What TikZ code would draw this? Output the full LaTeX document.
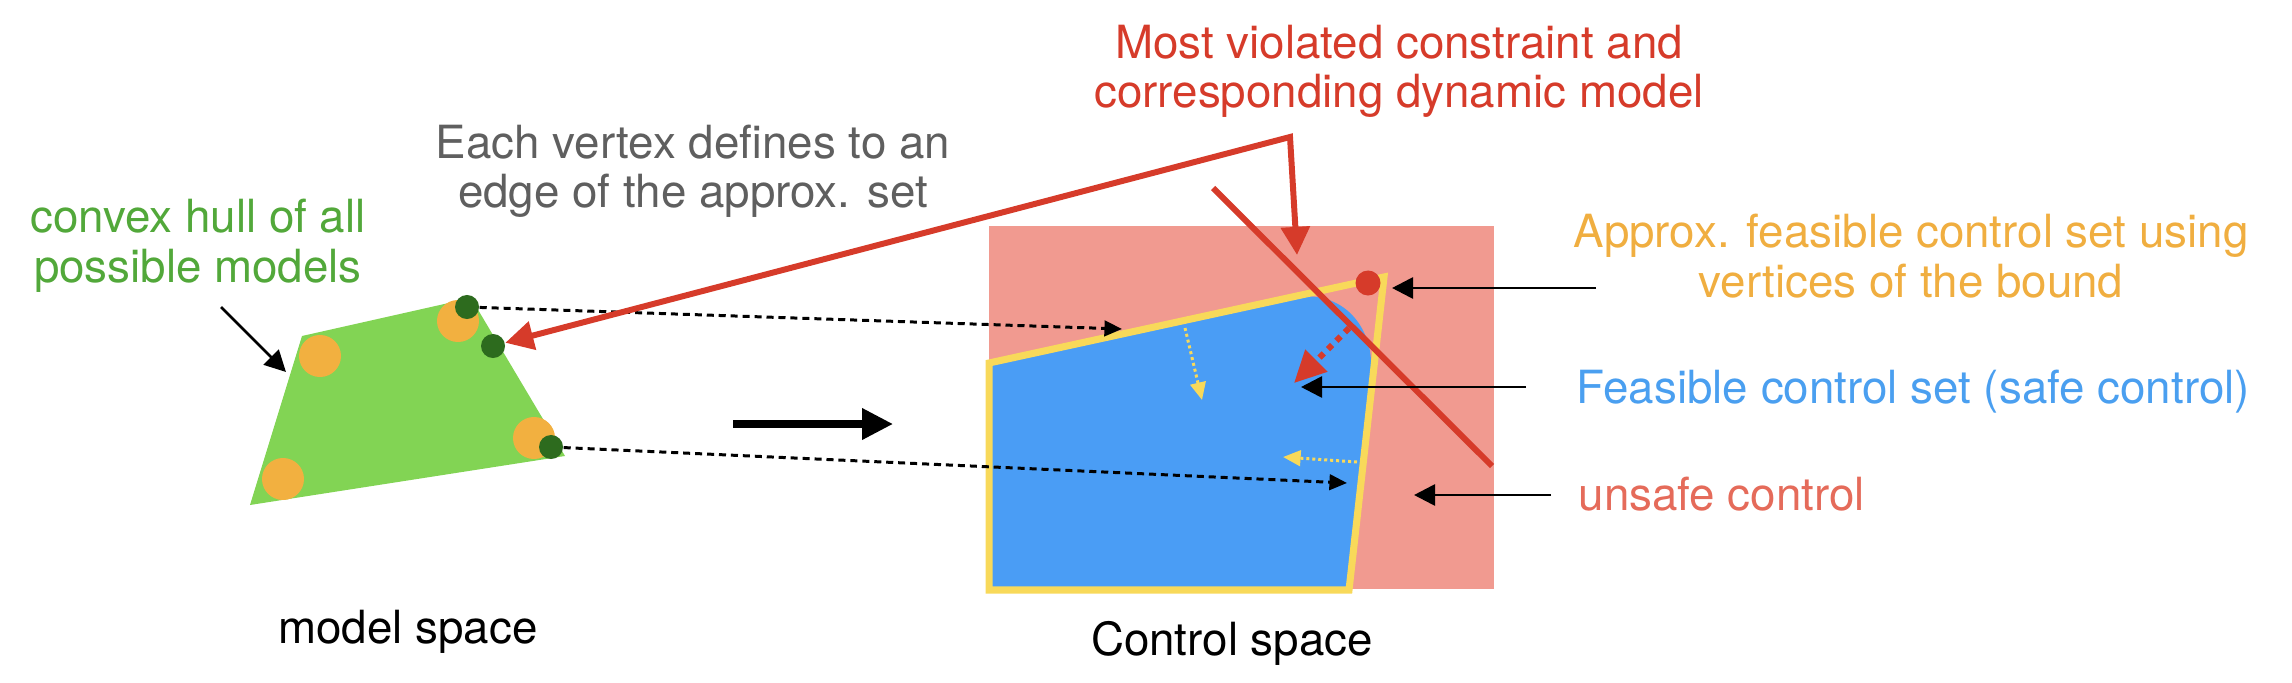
\documentclass[tikz,border=0pt]{standalone}
\usepackage{xcolor}
\usepackage{fontspec}
\setmainfont{TeX Gyre Heros}
\usepackage{tikz}
\usetikzlibrary{positioning, arrows.meta}
\definecolor{hullgreen}{HTML}{82D454}
\definecolor{notegreen}{HTML}{52A83A}
\definecolor{modelorange}{HTML}{F2B040}
\definecolor{vertexgreen}{HTML}{2D6B1E}
\definecolor{unsafepink}{HTML}{F19A90}
\definecolor{safeblue}{HTML}{4A9DF5}
\definecolor{boundyellow}{HTML}{F8D95A}
\definecolor{violred}{HTML}{D63B2A}
\definecolor{notegray}{HTML}{5F5F5F}
\definecolor{noteorange}{HTML}{F0AE40}
\definecolor{noteblue}{HTML}{4A9FF0}
\definecolor{notered}{HTML}{E56B5A}

\tikzset{
  note/.style={font=\fontsize{13}{14.2}\selectfont, inner sep=0pt, align=center},
  pointer/.style={-{Triangle[length=6pt,width=6pt]}, line width=0.8pt},
  vtxmap/.style={-{Triangle[length=5pt,width=4.4pt]}, line width=0.85pt,
                 dash pattern=on 2pt off 1.4pt},
  shrink/.style={-{Triangle[length=5pt,width=4.4pt]}, boundyellow,
                 line width=0.85pt, dash pattern=on 0.85pt off 0.85pt},
  violline/.style={violred, line width=1.7pt},
  modeldot/.style={circle, fill=modelorange, minimum size=0.42cm, inner sep=0pt},
  vertexdot/.style={circle, fill=vertexgreen, minimum size=0.24cm, inner sep=0pt},
}

\begin{document}
\begin{tikzpicture}[x=0.01cm, y=-0.01cm]
  \useasboundingbox (0,0) rectangle (2292,682);

  % model space
  \fill[hullgreen] (302,336) -- (471,298) -- (565,456) -- (250,505) -- cycle;
  \foreach \mx/\my [count=\i] in {320/356, 458/321, 534/438, 283/479}
    \node[modeldot] (m\i) at (\mx,\my) {};
  \node[vertexdot] (v1) at (467,307) {};
  \node[vertexdot] (v2) at (493,346) {};
  \node[vertexdot] (v3) at (551,447) {};

  % control space
  \fill[unsafepink] (989,226) rectangle (1494,589);
  \fill[safeblue] (989,363) -- (1289,298)
    .. controls (1345,287) and (1373,330) .. (1371,368)
    -- (1349,590) -- (989,590) -- cycle;
  \draw[boundyellow, line width=2pt] (989,363) -- (1384,277) -- (1349,590)
    -- (989,590) -- cycle;

  \coordinate (s1a) at (1185,328);
  \coordinate (s1b) at (1202,400);
  \coordinate (s2a) at (1357,462);
  \coordinate (s2b) at (1283,457);
  \draw[shrink] (s1a) -- (s1b);
  \draw[shrink] (s2a) -- (s2b);

  \coordinate (e1) at (1122,329);
  \coordinate (e3) at (1347,483);
  \draw[vtxmap] (v1) -- (e1);
  \draw[vtxmap] (v3) -- (e3);

  \coordinate (c1) at (1213,188);
  \coordinate (c2) at (1492,466);
  \draw[violline] (c1) -- (c2);
  \node[circle, fill=violred, minimum size=0.25cm, inner sep=0pt] (worst) at (1368,283) {};
  \coordinate (w1) at (1349,328);
  \coordinate (w2) at (1294,383);
  \draw[violline, dash pattern=on 1.7pt off 1.7pt,
        -{Triangle[length=9pt,width=8.5pt]}] (w1) -- (w2);

  \coordinate (elbow) at (1290,137);
  \coordinate (hit) at (1297,255);
  \draw[violline, {Triangle[length=8pt,width=8pt]}-{Triangle[length=8pt,width=8pt]}]
    (v2) -- (elbow) -- (hit);

  \coordinate (go1) at (733,424);
  \coordinate (go2) at (893,424);
  \draw[line width=2pt, -{Triangle[length=8.8pt,width=8.5pt]}] (go1) -- (go2);

  % labels (two-line notes sit on the baseline of their last line)
  \node[note, violred, anchor=base] (title) at (1399,108)
    {Most violated constraint and\\corresponding dynamic model};
  \node[note, notegray, anchor=base] (edgenote) at (693,208)
    {Each vertex defines to an\\edge of the approx. set};
  \node[note, notegreen, anchor=base] (hullnote) at (198,282)
    {convex hull of all\\possible models};
  \node[note, noteorange, anchor=base] (approxnote) at (1911,297)
    {Approx. feasible control set using\\vertices of the bound};
  \node[note, noteblue, anchor=base west] (feasnote) at (1576,403)
    {Feasible control set (safe control)};
  \node[note, notered, anchor=base west] (unsafenote) at (1578,510)
    {unsafe control};
  \node[note, anchor=base] (modelspace) at (408,643) {model space};
  \node[note, anchor=base] (controlspace) at (1232,655) {Control space};

  \coordinate (h1) at (221,307);
  \coordinate (h2) at (286,372);
  \coordinate (a1) at (1596,288);
  \coordinate (a2) at (1392,288);
  \coordinate (f1) at (1526,387);
  \coordinate (f2) at (1301,387);
  \coordinate (u1) at (1551,495);
  \coordinate (u2) at (1414,495);
  \draw[pointer] (h1) -- (h2);
  \draw[pointer] (a1) -- (a2);
  \draw[pointer] (f1) -- (f2);
  \draw[pointer] (u1) -- (u2);
\end{tikzpicture}
\end{document}
